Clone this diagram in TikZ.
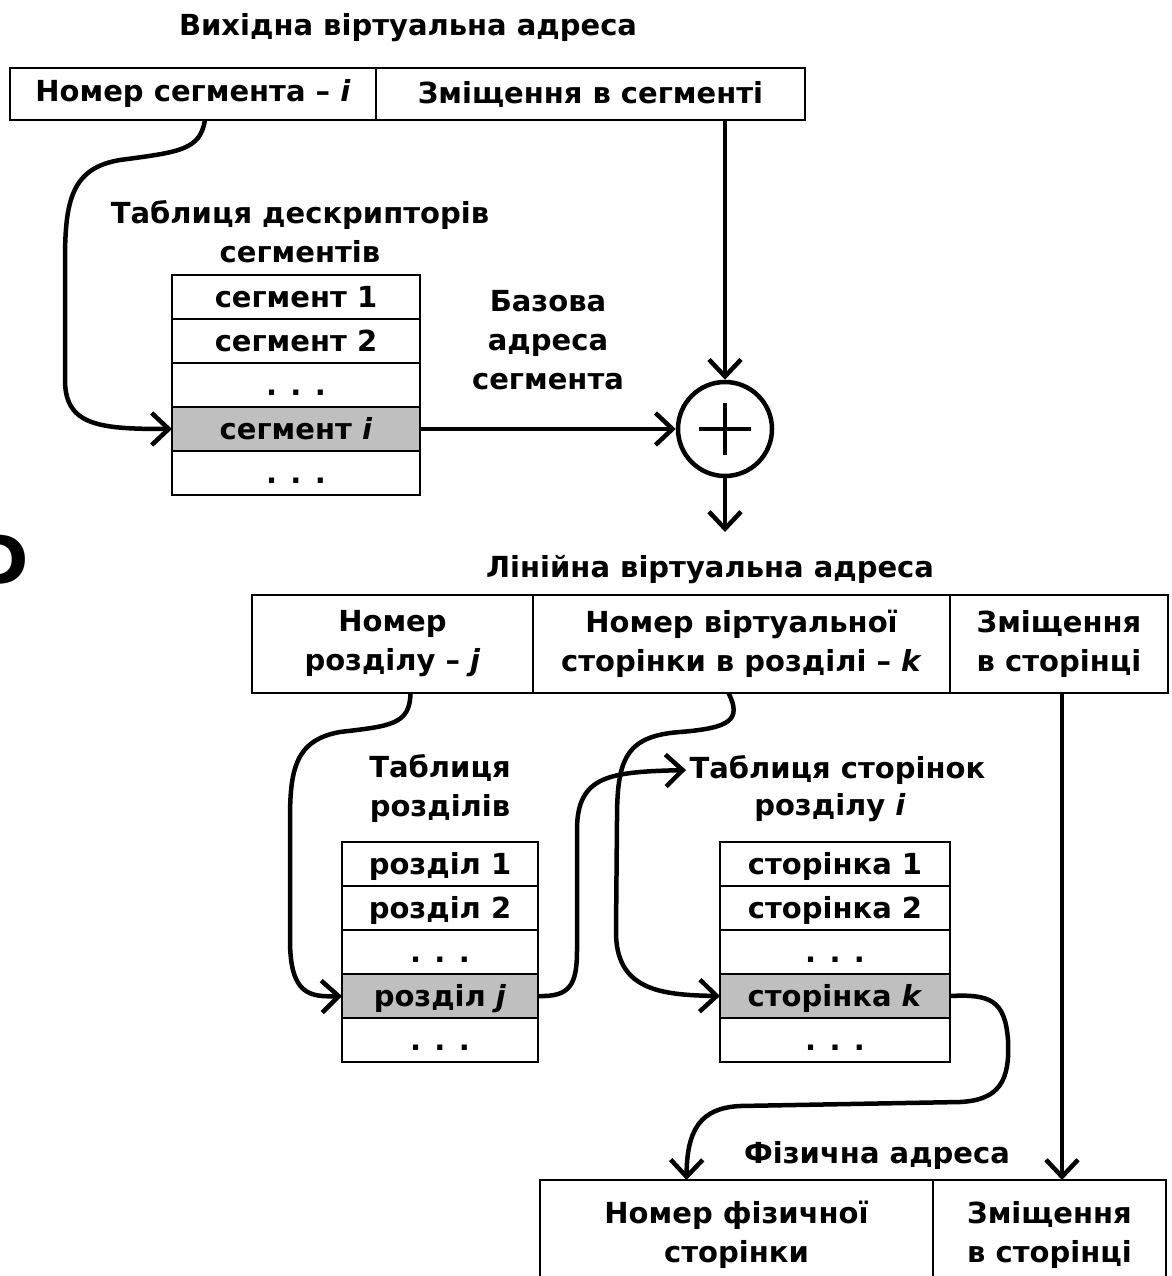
\documentclass[tikz,border=0pt]{standalone}
\usepackage{fontspec}
\setmainfont{DejaVu Sans}
\usetikzlibrary{positioning,calc,arrows.meta}

\tikzset{
  cell/.style={draw, line width=2pt, inner sep=0pt, outer sep=0pt, align=center},
  tabrow/.style={cell, minimum height=44pt, text height=21pt, text depth=0pt},
  selrow/.style={tabrow, fill=black!25},
  caption/.style={align=center},
  link/.style={line width=4.5pt, -{Straight Barb[length=17pt,width=32pt]}},
}

\begin{document}
\begin{tikzpicture}[x=1pt, y=-1pt, font=\fontsize{29}{39}\selectfont\bfseries]
    \useasboundingbox (0,0) rectangle (1171,1276);
    \clip (0,0) rectangle (1171,1276);

    % Cut letter at the left edge
    \node[font=\fontsize{68}{68}\selectfont\bfseries, anchor=east] (edge) at (32,560) {D};

    % Source virtual address
    \node[caption] (vcap) at (408,28) {Вихідна віртуальна адреса};
    \node[cell, minimum width=366pt, minimum height=52pt, anchor=north west] (segnum) at (10,68) {Номер сегмента – \textit{i}};
    \node[cell, minimum width=429pt, minimum height=52pt, right=0pt of segnum] (segoff) {Зміщення в сегменті};

    % Segment descriptor table
    \node[caption] (dcap) at (300,232) {Таблиця дескрипторів\\сегментів};
    \node[tabrow, minimum width=248pt, anchor=north west] (s1) at (172,275) {сегмент 1};
    \node[tabrow, minimum width=248pt, below=0pt of s1] (s2) {сегмент 2};
    \node[tabrow, minimum width=248pt, below=0pt of s2] (s3) {. . .};
    \node[selrow, minimum width=248pt, below=0pt of s3] (si) {сегмент \textit{i}};
    \node[tabrow, minimum width=248pt, below=0pt of si] (s5) {. . .};

    \node[caption] (bcap) at (548,340) {Базова\\адреса\\сегмента};

    % Adder
    \node[draw, circle, line width=4.5pt, minimum size=94pt, inner sep=0pt] (adder) at (725,429) {};
    \draw[line width=3.5pt] ([xshift=-26pt]adder.center) -- ([xshift=26pt]adder.center);
    \draw[line width=3.5pt] ([yshift=-26pt]adder.center) -- ([yshift=26pt]adder.center);

    \draw[link] ([xshift=12pt]segnum.south) .. controls (200,150) and (180,152) .. (120,160)
        .. controls (72,168) and (65,200) .. (65,260) -- (65,380)
        .. controls (65,426) and (100,429) .. (si.west);
    \draw[link] (segoff.south -| adder.north) -- (adder.north);
    \draw[link] (si.east) -- (adder.west);
    \coordinate (linin) at (725,532);
    \draw[link] (adder.south) -- (linin);

    % Linear virtual address
    \node[caption] (lcap) at (710,570) {Лінійна віртуальна адреса};
    \node[cell, minimum width=281pt, minimum height=98pt, anchor=north west] (lsec) at (252,595) {Номер\\розділу – \textit{j}};
    \node[cell, minimum width=417pt, minimum height=98pt, right=0pt of lsec] (lpage) {Номер віртуальної\\сторінки в розділі – \textit{k}};
    \node[cell, minimum width=218pt, minimum height=98pt, right=0pt of lpage] (loff) {Зміщення\\в сторінці};

    % Section table
    \node[caption] (rcap) at (440,789) {Таблиця\\розділів};
    \node[tabrow, minimum width=196pt, anchor=north west] (r1) at (342,842) {розділ 1};
    \node[tabrow, minimum width=196pt, below=0pt of r1] (r2) {розділ 2};
    \node[tabrow, minimum width=196pt, below=0pt of r2] (r3) {. . .};
    \node[selrow, minimum width=196pt, below=0pt of r3] (rj) {розділ \textit{j}};
    \node[tabrow, minimum width=196pt, below=0pt of rj] (r5) {. . .};

    % Page table of the section
    \node[caption, anchor=west] (pcap) at (686,770) {Таблиця сторінок};
    \node[caption] (pcap2) at (830,808) {розділу \textit{i}};
    \node[tabrow, minimum width=230pt, anchor=north west] (p1) at (720,842) {сторінка 1};
    \node[tabrow, minimum width=230pt, below=0pt of p1] (p2) {сторінка 2};
    \node[tabrow, minimum width=230pt, below=0pt of p2] (p3) {. . .};
    \node[selrow, minimum width=230pt, below=0pt of p3] (pk) {сторінка \textit{k}};
    \node[tabrow, minimum width=230pt, below=0pt of pk] (p5) {. . .};

    \draw[link] ([xshift=18pt]lsec.south) .. controls (410,725) and (390,726) .. (340,732)
        .. controls (295,740) and (290,770) .. (290,820) -- (290,940)
        .. controls (290,995) and (310,997) .. (rj.west);
    \draw[link] (rj.east) .. controls (570,997) and (577,985) .. (577,950) -- (577,830)
        .. controls (577,775) and (610,772) .. (pcap.west);
    \draw[link] ([xshift=-13pt]lpage.south) .. controls (742,720) and (730,728) .. (680,732)
        .. controls (625,736) and (617,760) .. (617,820) -- (616,930)
        .. controls (615,990) and (660,995) .. (pk.west);

    % Physical address
    \node[caption] (fcap) at (877,1155) {Фізична адреса};
    \node[cell, minimum width=393pt, minimum height=110pt, anchor=north west] (pnum) at (540,1180) {Номер фізичної\\сторінки};
    \node[cell, minimum width=233pt, minimum height=110pt, right=0pt of pnum] (poff) {Зміщення\\в сторінці};

    \coordinate (pnumin) at ([xshift=-50pt]pnum.north);
    \draw[link] (pk.east) .. controls (990,994) and (1005,1000) .. (1008,1040)
        .. controls (1010,1080) and (1000,1100) .. (960,1102) -- (740,1106)
        .. controls (700,1108) and (687,1130) .. (pnumin);
    \draw[link] ([xshift=3pt]loff.south) -- ([xshift=3pt]loff.south |- poff.north);
\end{tikzpicture}
\end{document}
